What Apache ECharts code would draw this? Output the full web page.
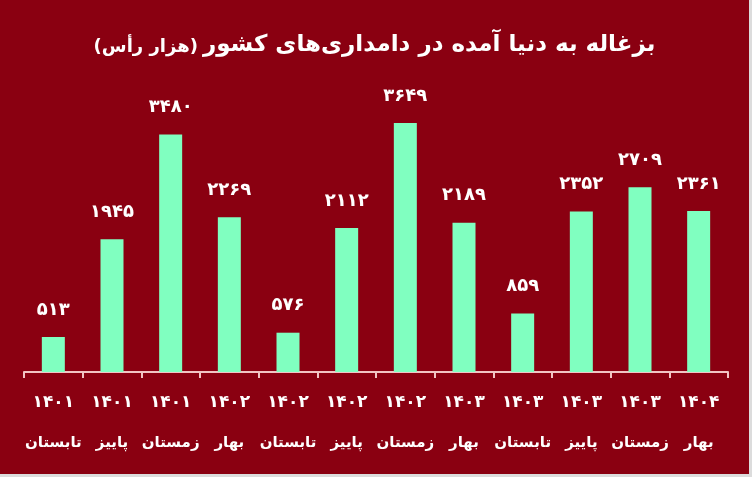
<!DOCTYPE html>
<html>
<head>
<meta charset="utf-8">
<script src="https://cdn.jsdelivr.net/npm/echarts@6/dist/echarts.min.js"></script>
<style>
html,body{margin:0;padding:0;background:#dcdcdc;}
#c{width:749px;height:474px;background:#8a0011;}
</style>
</head>
<body>
<div id="c"></div>
<script>
const years = ['۱۴۰۱','۱۴۰۱','۱۴۰۱','۱۴۰۲','۱۴۰۲','۱۴۰۲','۱۴۰۲','۱۴۰۳','۱۴۰۳','۱۴۰۳','۱۴۰۳','۱۴۰۴'];
const seasons = ['تابستان','پاییز','زمستان','بهار','تابستان','پاییز','زمستان','بهار','تابستان','پاییز','زمستان','بهار'];
const values = [513,1945,3480,2269,576,2112,3649,2189,859,2352,2709,2361];
const titleMain = 'بزغاله به دنیا آمده در دامداری‌های کشور';
const titleUnit = '(هزار رأس)';

const fa = n => String(n).replace(/[0-9]/g, d => '۰۱۲۳۴۵۶۷۸۹'[d]);
const cats = years.map((y,i) => y + '\n' + seasons[i]);

const chart = echarts.init(document.getElementById('c'));
chart.setOption({
  backgroundColor: '#8a0011',
  animation: false,
  title: {
    text: '{u|' + titleUnit + '} {m|' + titleMain + '}',
    left: 'center',
    top: 29,
    textStyle: {
      rich: {
        u: {fontFamily: 'DejaVu Sans', fontSize: 18, fontWeight: 'bold', color: '#fff', padding: [4, 0, 0, 0]},
        m: {fontFamily: 'DejaVu Sans', fontSize: 23, fontWeight: 'bold', color: '#fff'}
      }
    }
  },
  grid: {left: 24, right: 21, top: 80, bottom: 102},
  xAxis: {
    type: 'category',
    data: cats,
    axisLine: {lineStyle: {color: '#f2c4c4', width: 2}},
    axisTick: {show: true, length: 6, lineStyle: {color: '#f2c4c4', width: 2}},
    axisLabel: {
      interval: 0,
      margin: 11,
      color: '#fff',
      fontFamily: 'DejaVu Sans',
      fontWeight: 'bold',
      formatter: (v) => { const p = v.split('\n'); return '{y|' + p[0] + '}\n{s|' + p[1] + '}'; },
      rich: {
        y: {fontFamily: 'DejaVu Sans', fontWeight: 'bold', fontSize: 17, color: '#fff', lineHeight: 40},
        s: {fontFamily: 'DejaVu Sans', fontWeight: 'bold', fontSize: 15, color: '#fff', lineHeight: 40}
      }
    }
  },
  yAxis: {
    type: 'value', min: 0, max: 4280, show: false,
    splitLine: {show: false}
  },
  series: [{
    type: 'bar',
    data: values,
    barWidth: 23,
    itemStyle: {color: '#80ffc0'},
    label: {
      show: true,
      position: 'top',
      distance: 18,
      color: '#fff',
      fontFamily: 'DejaVu Sans',
      fontWeight: 'bold',
      fontSize: 18,
      formatter: p => fa(p.value)
    }
  }]
});
</script>
</body>
</html>
